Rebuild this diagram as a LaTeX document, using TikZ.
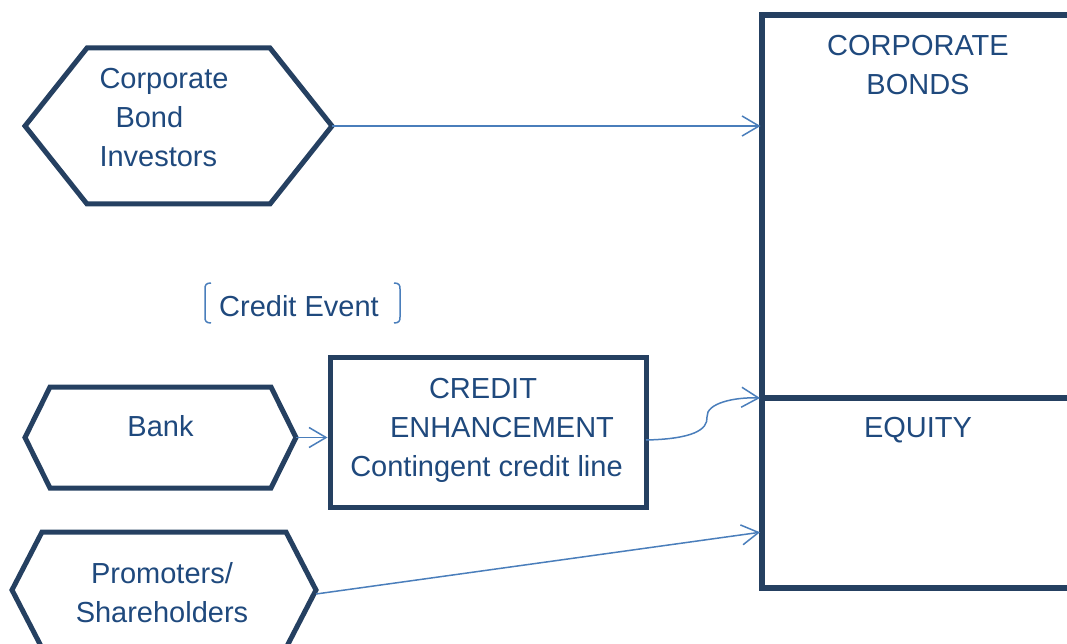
\documentclass[tikz,border=0pt]{standalone}
\usepackage{fontspec}
\setmainfont{Liberation Sans}
\usetikzlibrary{arrows.meta,calc}
\definecolor{outline}{HTML}{254061}
\definecolor{txt}{HTML}{1F497D}
\definecolor{link}{HTML}{4A7EBB}
% hexagon drawn on the frame of an empty node: #1 node name, #2 corner cut
\newcommand\drawhex[2]{%
  \draw[hexline] (#1.west) -- ($(#1.north west)+(#2,0)$) -- ($(#1.north east)+(-#2,0)$)
    -- (#1.east) -- ($(#1.south east)+(-#2,0)$) -- ($(#1.south west)+(#2,0)$) -- cycle;}
\begin{document}
\begin{tikzpicture}[x=1pt,y=-1pt,
  every node/.style={inner sep=0pt, outer sep=0pt, text=txt,
    font=\fontsize{29}{39}\selectfont},
  hexframe/.style={draw=none},
  hexline/.style={draw=outline, line width=5pt},
  boxline/.style={draw=outline, line width=5pt},
  bigbox/.style={draw=outline, line width=6pt},
  link/.style={draw=link, line width=1.5pt,
    -{Straight Barb[length=17pt,width=20pt,line width=1.5pt]}},
  bracket/.style={draw=link, line width=1.5pt}]
\clip (0,0) rectangle (1067,644);

% right-hand balance sheet
\node[bigbox, minimum width=330pt, minimum height=383pt] (bonds) at (927,206.5) {};
\node[bigbox, minimum width=330pt, minimum height=190pt] (equity) at (927,493) {};
\node[align=center] (bondstext) at (918,65) {CORPORATE\\BONDS};
\node (equitytext) at (918,430) {EQUITY};

% corporate bond investors
\node[hexframe, minimum width=307pt, minimum height=156pt] (cbi) at (178.5,126) {};
\drawhex{cbi}{62}
\node[align=left, anchor=west] (cbitext) at (99.5,118) {Corporate\\\hspace*{16pt}Bond\\Investors};

% bank
\node[hexframe, minimum width=271pt, minimum height=101pt] (bank) at (160.5,437.5) {};
\drawhex{bank}{25}
\node (banktext) at (160.5,426.5) {Bank};

% promoters / shareholders
\node[hexframe, minimum width=304pt, minimum height=116pt] (prom) at (164,590) {};
\drawhex{prom}{30}
\node[align=center] (promtext) at (162,593) {Promoters/\\Shareholders};

% credit enhancement
\node[boxline, minimum width=316pt, minimum height=150pt] (ce) at (488,432) {};
\node[align=center] (cetext) at (488,430.5)
  {\hspace*{-10pt}CREDIT\\\hspace*{28pt}ENHANCEMENT\\\hspace*{-3pt}Contingent credit line};

% credit event label with brackets
\node (event) at (299,306.5) {Credit Event};
\draw[bracket] (211,283) .. controls (206,283) and (205,285) .. (205,289)
  -- (205,317) .. controls (205,321) and (206,323) .. (211,323);
\draw[bracket] (394,283) .. controls (399,283) and (400,285) .. (400,289)
  -- (400,317) .. controls (400,321) and (399,323) .. (394,323);

% flows
\coordinate (eqin) at ($(equity.west)+(0,39)$);
\draw[link, shorten >=1.5pt] (cbi.east) -- (cbi.east -| bonds.west);
\draw[link, shorten >=2.5pt] (bank.east) -- (bank.east -| ce.west);
\draw[link] ($(ce.east)+(0,8)$) .. controls (692,439) and (708,430) .. (707,417)
  .. controls (706,403) and (735,397) .. ($(bonds.south west)+(-2,0)$);
\draw[link, shorten >=2pt] ($(prom.east)+(0,4)$) -- (eqin);
\end{tikzpicture}
\end{document}
